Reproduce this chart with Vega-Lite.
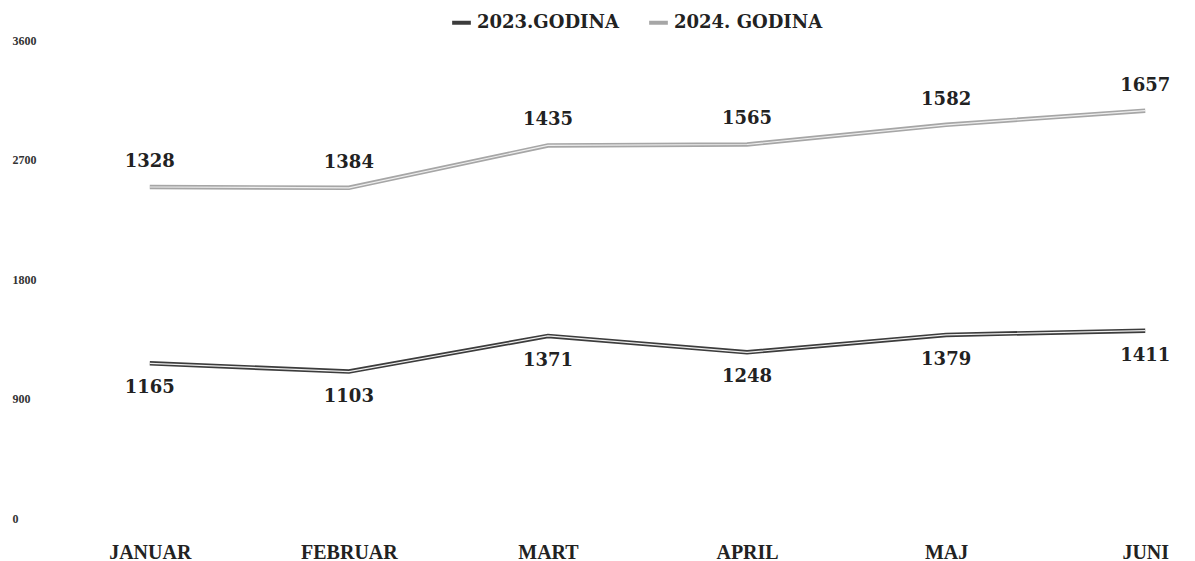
{
  "$schema": "https://vega.github.io/schema/vega-lite/v6.json",
  "autosize": {"type": "none"},
  "width": 1095,
  "height": 478,
  "padding": {"left": 100, "top": 40, "right": 0, "bottom": 43},
  "background": "white",
  "config": {"view": {"stroke": null}, "font": "DejaVu Serif"},
  "data": {"values": [
    {"month": "JANUAR", "series": "2023.GODINA", "value": 1165},
    {"month": "FEBRUAR", "series": "2023.GODINA", "value": 1103},
    {"month": "MART", "series": "2023.GODINA", "value": 1371},
    {"month": "APRIL", "series": "2023.GODINA", "value": 1248},
    {"month": "MAJ", "series": "2023.GODINA", "value": 1379},
    {"month": "JUNI", "series": "2023.GODINA", "value": 1411},
    {"month": "JANUAR", "series": "2024. GODINA", "value": 1328},
    {"month": "FEBRUAR", "series": "2024. GODINA", "value": 1384},
    {"month": "MART", "series": "2024. GODINA", "value": 1435},
    {"month": "APRIL", "series": "2024. GODINA", "value": 1565},
    {"month": "MAJ", "series": "2024. GODINA", "value": 1582},
    {"month": "JUNI", "series": "2024. GODINA", "value": 1657}
  ]},
  "transform": [
    {"stack": "value", "groupby": ["month"], "sort": [{"field": "series", "order": "ascending"}], "as": ["y0", "y1"]}
  ],
  "encoding": {
    "x": {
      "field": "month", "type": "ordinal",
      "sort": ["JANUAR", "FEBRUAR", "MART", "APRIL", "MAJ", "JUNI"],
      "scale": {"type": "point", "padding": 0.25},
      "axis": {"title": null, "domain": false, "ticks": false, "grid": false, "labelAngle": 0,
               "labelFont": "Liberation Serif", "labelFontWeight": "bold", "labelFontSize": 20, "labelColor": "#222",
               "labelPadding": 24, "labelBaseline": "top"}
    },
    "y": {
      "field": "y1", "type": "quantitative",
      "scale": {"domain": [0, 3600]},
      "axis": {"title": null, "domain": false, "ticks": false, "grid": false, "values": [0, 900, 1800, 2700, 3600], "format": "d",
               "labelFont": "Liberation Serif", "labelFontWeight": "bold", "labelFontSize": 12, "labelColor": "#333",
               "labelAlign": "left", "labelPadding": 88}
    }
  },
  "layer": [
    {
      "mark": {"type": "line", "strokeWidth": 4.5},
      "encoding": {
        "color": {
          "field": "series", "type": "nominal",
          "scale": {"domain": ["2023.GODINA", "2024. GODINA"], "range": ["#3c3c3c", "#a6a6a6"]},
          "legend": {"title": null, "orient": "none", "legendX": 350, "legendY": -29, "direction": "horizontal",
                     "symbolType": "stroke", "symbolStrokeWidth": 4, "symbolSize": 350, "columnPadding": 22, "labelOffset": 4,
                     "labelFont": "DejaVu Serif", "labelFontWeight": "bold", "labelFontSize": 18, "labelColor": "#222"}
        }
      }
    },
    {
      "mark": {"type": "line", "strokeWidth": 1.2, "color": "#eeeeee"},
      "encoding": {"detail": {"field": "series", "type": "nominal"}}
    },
    {
      "transform": [{"filter": "datum.series === '2023.GODINA'"}],
      "mark": {"type": "text", "dy": 25, "font": "DejaVu Serif", "fontWeight": "bold", "fontSize": 18, "color": "#222"},
      "encoding": {"text": {"field": "value", "type": "quantitative"}}
    },
    {
      "transform": [{"filter": "datum.series === '2024. GODINA'"}],
      "mark": {"type": "text", "dy": -25, "font": "DejaVu Serif", "fontWeight": "bold", "fontSize": 18, "color": "#222"},
      "encoding": {"text": {"field": "value", "type": "quantitative"}}
    }
  ]
}
